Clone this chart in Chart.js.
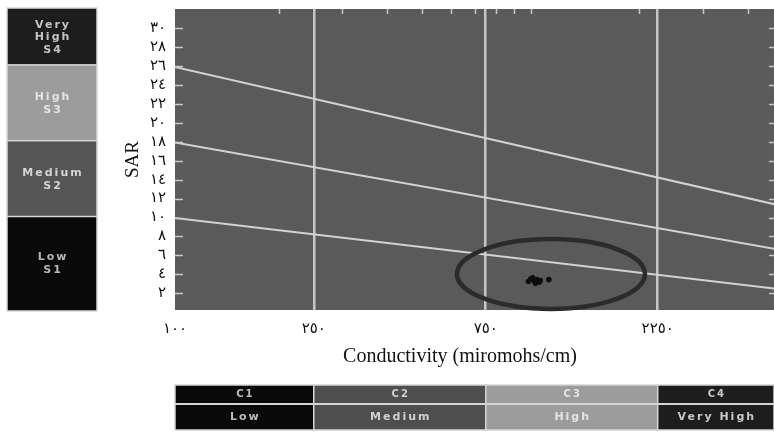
<!DOCTYPE html>
<html><head><meta charset="utf-8">
<script src="https://cdn.jsdelivr.net/npm/chart.js@4/dist/chart.umd.min.js"></script>
<style>html,body{margin:0;padding:0;background:#fff;overflow:hidden}canvas{display:block}</style>
</head><body>
<canvas id="c" width="774" height="432"></canvas>
<script>
// ---- data ----
const xTickValues = [100, 250, 750, 2250];
const xTickLabels = ['١٠٠', '٢٥٠', '٧٥٠', '٢٢٥٠'];
const xMinorTicks = [200, 300, 400, 500, 600, 700, 800, 900, 1000, 2000, 3000, 4000];
const yTickValues = [2, 4, 6, 8, 10, 12, 14, 16, 18, 20, 22, 24, 26, 28, 30];
const yTickLabels = ['٢', '٤', '٦', '٨', '١٠', '١٢', '١٤', '١٦', '١٨', '٢٠', '٢٢', '٢٤', '٢٦', '٢٨', '٣٠'];
const xRange = [103, 4730];
const yRange = [0.24, 32];

const boundaryEC = [100, 5000];
const lineS4S3 = [26, 11.2];
const lineS3S2 = [18, 6.55];
const lineS2S1 = [10, 2.4];

const sampleEC  = [985, 1000, 1012, 1022, 1030, 1040, 1055, 1062, 1122];
const sampleSAR = [3.25, 3.5, 3.65, 3.35, 3.05, 3.45, 3.2, 3.35, 3.45];

const circledEC = [624, 2074];
const circledSAR = [0.35, 7.72];

const sodiumClasses = [['Very', 'High', 'S4'], ['High', 'S3'], ['Medium', 'S2'], ['Low', 'S1']];
const sodiumBounds = [32, 26, 18, 10, 0.24];
const sodiumFill = ['#1d1d1d', '#9c9c9c', '#555555', '#0a0a0a'];
const sodiumText = ['#c4c4c4', '#e4e4e4', '#d4d4d4', '#b8b8b8'];

const salinityClasses = ['C1', 'C2', 'C3', 'C4'];
const salinityNames = ['Low', 'Medium', 'High', 'Very High'];
const salinityBounds = [103, 250, 750, 2250, 4730];
const salinityFill = ['#0a0a0a', '#4e4e4e', '#9c9c9c', '#1d1d1d'];
const salinityText = ['#bdbdbd', '#d0d0d0', '#e4e4e4', '#c8c8c8'];

const xTitle = 'Conductivity (miromohs/cm)';
const yTitle = 'SAR';

const SERIF = "'Liberation Serif', 'DejaVu Sans', serif";
const SANS = "'DejaVu Sans', sans-serif";

function pairs(xs, ys) { return xs.map((x, i) => ({ x: x, y: ys[i] })); }

const decorPlugin = {
  id: 'decor',
  beforeDraw(chart) {
    const { ctx, chartArea: a } = chart;
    ctx.save();
    ctx.fillStyle = '#5a5a5a';
    ctx.fillRect(a.left, a.top, a.right - a.left, a.bottom - a.top);
    ctx.restore();
  },
  afterDraw(chart) {
    const { ctx, chartArea: a, scales } = chart;
    const xs = scales.x, ys = scales.y;
    ctx.save();
    // inner tick marks
    ctx.strokeStyle = '#c8c8c8';
    ctx.lineWidth = 1.5;
    yTickValues.forEach(v => {
      const py = Math.round(ys.getPixelForValue(v)) + 0.5;
      ctx.beginPath(); ctx.moveTo(a.left, py); ctx.lineTo(a.left + 8, py); ctx.stroke();
      ctx.beginPath(); ctx.moveTo(a.right - 5, py); ctx.lineTo(a.right, py); ctx.stroke();
    });
    xMinorTicks.forEach(v => {
      const px = Math.round(xs.getPixelForValue(v)) + 0.5;
      ctx.beginPath(); ctx.moveTo(px, a.top); ctx.lineTo(px, a.top + 5); ctx.stroke();
    });

    // circled region
    const ex0 = xs.getPixelForValue(circledEC[0]), ex1 = xs.getPixelForValue(circledEC[1]);
    const ey0 = ys.getPixelForValue(circledSAR[0]), ey1 = ys.getPixelForValue(circledSAR[1]);
    ctx.strokeStyle = '#2b2b2b';
    ctx.lineWidth = 4.5;
    ctx.beginPath();
    ctx.ellipse((ex0 + ex1) / 2, (ey0 + ey1) / 2, Math.abs(ex1 - ex0) / 2, Math.abs(ey1 - ey0) / 2, 0, 0, Math.PI * 2);
    ctx.stroke();

    // sodium hazard panel (left)
    const bx0 = 7, bx1 = 97;
    ctx.letterSpacing = '2px';
    sodiumClasses.forEach((lines, i) => {
      const t = ys.getPixelForValue(sodiumBounds[i]) - 1;
      const b = ys.getPixelForValue(sodiumBounds[i + 1]) + 1;
      ctx.fillStyle = sodiumFill[i];
      ctx.fillRect(bx0, t, bx1 - bx0, b - t);
      ctx.strokeStyle = '#d8d8d8';
      ctx.lineWidth = 1.5;
      ctx.strokeRect(bx0, t, bx1 - bx0, b - t);
      ctx.fillStyle = sodiumText[i];
      ctx.font = 'bold 11px ' + SANS;
      ctx.textAlign = 'center';
      ctx.textBaseline = 'middle';
      const lh = 12.5;
      const cy = (t + b) / 2 - (lines.length - 1) * lh / 2;
      lines.forEach((s, j) => ctx.fillText(s, (bx0 + bx1) / 2 + 1, cy + j * lh));
    });

    // salinity hazard panel (bottom)
    const r0 = 385, r1 = 404, r2 = 430;
    salinityClasses.forEach((c, i) => {
      const l = xs.getPixelForValue(salinityBounds[i]);
      const r = xs.getPixelForValue(salinityBounds[i + 1]);
      ctx.fillStyle = salinityFill[i];
      ctx.fillRect(l, r0, r - l, r2 - r0);
      ctx.strokeStyle = '#d4d4d4';
      ctx.lineWidth = 1.5;
      ctx.strokeRect(l, r0, r - l, r2 - r0);
      ctx.beginPath(); ctx.moveTo(l, r1); ctx.lineTo(r, r1); ctx.lineWidth = 2; ctx.stroke();
      ctx.fillStyle = salinityText[i];
      ctx.font = 'bold 10px ' + SANS;
      ctx.textAlign = 'center';
      ctx.textBaseline = 'middle';
      ctx.fillText(c, (l + r) / 2 + 1, (r0 + r1) / 2);
      ctx.font = 'bold 11px ' + SANS;
      ctx.fillText(salinityNames[i], (l + r) / 2 + 1, (r1 + r2) / 2);
    });
    ctx.letterSpacing = '0px';

    // x axis title
    ctx.fillStyle = '#111';
    ctx.font = '20px ' + SERIF;
    ctx.textAlign = 'center';
    ctx.textBaseline = 'middle';
    ctx.fillText(xTitle, 460, 357);
    ctx.restore();
  }
};

const lineStyle = { borderColor: '#d2d2d2', borderWidth: 2, pointRadius: 0, fill: false, type: 'line', tension: 0 };

new Chart(document.getElementById('c'), {
  type: 'scatter',
  data: {
    datasets: [
      { label: 'Samples', data: pairs(sampleEC, sampleSAR), pointRadius: 2.8, pointBackgroundColor: '#0d0d0d', pointBorderWidth: 0, showLine: false },
      Object.assign({ label: 'S4/S3', data: pairs(boundaryEC, lineS4S3) }, lineStyle),
      Object.assign({ label: 'S3/S2', data: pairs(boundaryEC, lineS3S2) }, lineStyle),
      Object.assign({ label: 'S2/S1', data: pairs(boundaryEC, lineS2S1) }, lineStyle)
    ]
  },
  options: {
    responsive: false,
    animation: false,
    layout: { autoPadding: false, padding: { left: 100, right: 0, top: 0, bottom: 82 } },
    plugins: { legend: { display: false }, tooltip: { enabled: false } },
    scales: {
      x: {
        type: 'logarithmic',
        min: xRange[0], max: xRange[1],
        afterBuildTicks: s => { s.ticks = xTickValues.map(v => ({ value: Math.max(v, s.min) })); },
        afterFit: s => { s.height = 40; s.paddingRight = 0; },
        border: { display: false },
        grid: {
          drawTicks: false,
          color: c => (c.index === 0 ? 'rgba(0,0,0,0)' : '#c6c6c6'),
          lineWidth: 2.5
        },
        ticks: {
          padding: 10, maxRotation: 0, autoSkip: false,
          color: '#111',
          font: { family: SERIF, size: 15 },
          callback: (v, i) => xTickLabels[i]
        }
      },
      y: {
        min: yRange[0], max: yRange[1],
        afterBuildTicks: s => { s.ticks = yTickValues.map(v => ({ value: v })); },
        afterFit: s => { s.width = 75; s.paddingTop = 9; s.paddingBottom = 0; },
        border: { display: false },
        grid: { display: false, drawTicks: false },
        ticks: {
          padding: 9, autoSkip: false,
          color: '#111',
          font: { family: SERIF, size: 15 },
          callback: (v, i) => yTickLabels[i]
        },
        title: {
          display: true, text: yTitle, color: '#111',
          font: { family: SERIF, size: 19 },
          padding: { top: 22, bottom: 0 }
        }
      }
    }
  },
  plugins: [decorPlugin]
});
</script>
</body></html>
